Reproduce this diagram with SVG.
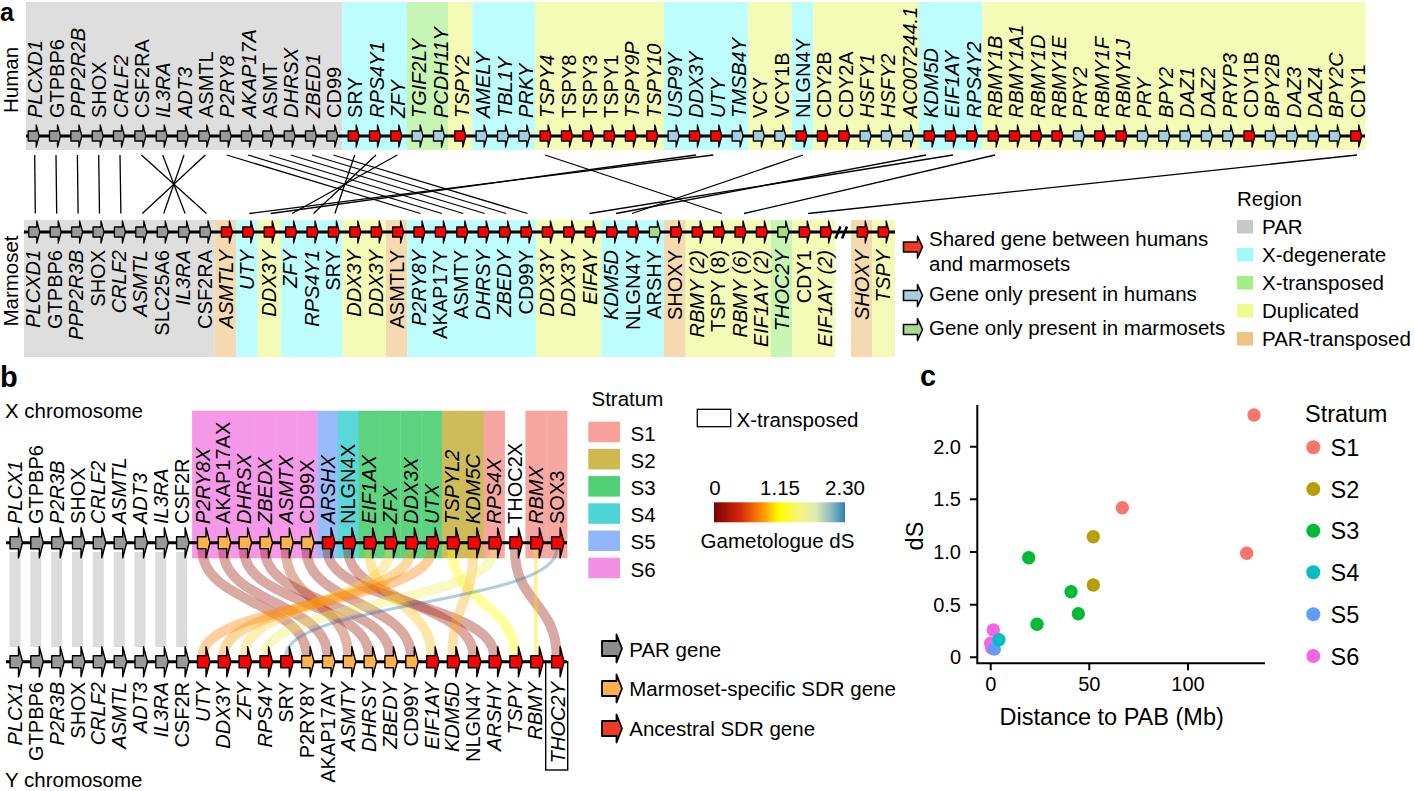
<svg xmlns="http://www.w3.org/2000/svg" width="1414" height="791" viewBox="0 0 1414 791">
<defs>
<style>
text{font-family:"Liberation Sans",Arial,Helvetica,sans-serif;fill:#000}
.gl{font-size:20px}
.i{font-style:italic}
.e{text-anchor:end}
.m{text-anchor:middle}
.lg{font-size:20.5px}
.ax{font-size:20px}
.cl{font-size:23.5px}
.bb{stroke:#000;stroke-width:3}
.par{fill:#999}
.red{fill:#f00}
.hum{fill:#a7cde1}
.mar{fill:#a8d98c}
.msp{fill:#ffb24a}
.ln line{stroke:#000;stroke-width:1.3}
.rb path{fill:none;stroke-opacity:.38}
.pl{font-weight:bold;font-size:29px}
.rg{stroke:none}
</style>
<path id="ga" d="M-4.5,-5H3.5V-11L6.5,0L3.5,11V5H-4.5Z" stroke="#000" stroke-width="1.3" stroke-linejoin="round"/>
<path id="gb" d="M-5,-6H3.5V-15L7.5,0L3.5,15V6H-5Z" stroke="#000" stroke-width="1.4" stroke-linejoin="round"/>
<path id="la" d="M0,-5H14V-11L19,0L14,11V5H0Z" stroke="#000" stroke-width="1.6" stroke-linejoin="round"/>
<path id="lb" d="M0,-7.5H14.5V-14L20,0L14.5,14V7.5H0Z" stroke="#000" stroke-width="1.8" stroke-linejoin="round"/>
<linearGradient id="dsg" x1="0" x2="1" y1="0" y2="0">
<stop offset="0" stop-color="#7a0000"/><stop offset="0.2" stop-color="#d42a08"/><stop offset="0.36" stop-color="#ff8a00"/><stop offset="0.5" stop-color="#ffff00"/><stop offset="0.65" stop-color="#f4f47c"/><stop offset="0.78" stop-color="#dfe9b4"/><stop offset="0.9" stop-color="#86b8c0"/><stop offset="1" stop-color="#2c7fb8"/>
</linearGradient>
</defs>
<rect width="1414" height="791" fill="#fff"/>

<text class="pl" x="0" y="21" style="font-size:25px">a</text>
<text class="pl" x="0" y="387">b</text>
<text class="pl" x="920" y="386">c</text>

<g id="regions-human" class="rg">
<rect x="26" y="2" width="316.5" height="148" fill="#dedede"/>
<rect x="342.5" y="2" width="64.5" height="148" fill="#bdfdfd"/>
<rect x="407" y="2" width="41" height="148" fill="#c6f5b4"/>
<rect x="448" y="2" width="24.3" height="148" fill="#f4fbb6"/>
<rect x="472.3" y="2" width="62.7" height="148" fill="#bdfdfd"/>
<rect x="535" y="2" width="129" height="148" fill="#f4fbb6"/>
<rect x="664" y="2" width="84.3" height="148" fill="#bdfdfd"/>
<rect x="748.3" y="2" width="43.4" height="148" fill="#f4fbb6"/>
<rect x="791.7" y="2" width="21.6" height="148" fill="#bdfdfd"/>
<rect x="813.3" y="2" width="105.7" height="148" fill="#f4fbb6"/>
<rect x="919" y="2" width="63.3" height="148" fill="#bdfdfd"/>
<rect x="982.3" y="2" width="383.4" height="148" fill="#f4fbb6"/>
</g>
<g id="regions-marmoset" class="rg">
<rect x="24" y="220" width="190.3" height="137" fill="#dedede"/>
<rect x="214.3" y="220" width="21.7" height="137" fill="#f5d9b0"/>
<rect x="236" y="220" width="21.7" height="137" fill="#bdfdfd"/>
<rect x="257.7" y="220" width="23.3" height="137" fill="#f4fbb6"/>
<rect x="281" y="220" width="61.3" height="137" fill="#bdfdfd"/>
<rect x="342.3" y="220" width="43.7" height="137" fill="#f4fbb6"/>
<rect x="386" y="220" width="21.3" height="137" fill="#f5d9b0"/>
<rect x="407.3" y="220" width="128.7" height="137" fill="#bdfdfd"/>
<rect x="536" y="220" width="65.3" height="137" fill="#f4fbb6"/>
<rect x="601.3" y="220" width="62.7" height="137" fill="#bdfdfd"/>
<rect x="664" y="220" width="21.7" height="137" fill="#f5d9b0"/>
<rect x="685.7" y="220" width="85.3" height="137" fill="#f4fbb6"/>
<rect x="771" y="220" width="21.3" height="137" fill="#c6f5b4"/>
<rect x="792.3" y="220" width="43" height="137" fill="#f4fbb6"/>
<rect x="851" y="220" width="21.3" height="137" fill="#f5d9b0"/>
<rect x="872.3" y="220" width="22.7" height="137" fill="#f4fbb6"/>
</g>

<g id="connectors-a" class="ln">
<line x1="34.7" y1="155" x2="35.3" y2="213.5"/>
<line x1="56" y1="155" x2="56.7" y2="213.5"/>
<line x1="77.4" y1="155" x2="78.1" y2="213.5"/>
<line x1="98.7" y1="155" x2="99.5" y2="213.5"/>
<line x1="120" y1="155" x2="120.9" y2="213.5"/>
<line x1="141.4" y1="155" x2="206.5" y2="213.5"/>
<line x1="162.7" y1="155" x2="185.1" y2="213.5"/>
<line x1="184" y1="155" x2="163.7" y2="213.5"/>
<line x1="205.3" y1="155" x2="142.3" y2="213.5"/>
<line x1="226.7" y1="155" x2="420.5" y2="213.5"/>
<line x1="248" y1="155" x2="441.9" y2="213.5"/>
<line x1="269.3" y1="155" x2="463.3" y2="213.5"/>
<line x1="290.7" y1="155" x2="484.7" y2="213.5"/>
<line x1="312" y1="155" x2="506.1" y2="213.5"/>
<line x1="333.3" y1="155" x2="527.5" y2="213.5"/>
<line x1="354.7" y1="155" x2="334.9" y2="213.5"/>
<line x1="376" y1="155" x2="313.5" y2="213.5"/>
<line x1="397.3" y1="155" x2="292.1" y2="213.5"/>
<line x1="695.9" y1="155" x2="270.7" y2="213.5"/>
<line x1="713.3" y1="155" x2="249.3" y2="213.5"/>
<line x1="545" y1="155" x2="722" y2="213.5"/>
<line x1="803" y1="155" x2="632" y2="213.5"/>
<line x1="926" y1="155" x2="616" y2="213.5"/>
<line x1="953" y1="155" x2="589.5" y2="213.5"/>
<line x1="995" y1="155" x2="744" y2="213.5"/>
<line x1="1357" y1="155" x2="808" y2="213.5"/>
</g>

<line class="bb" x1="26" y1="136" x2="1365" y2="136"/>
<line class="bb" x1="24" y1="232" x2="895" y2="232"/>
<path d="M835.5,238.5L840.5,226.5M842,238.5L847,226.5" stroke="#000" stroke-width="2.5"/>

<text class="lg m" transform="translate(18 80) rotate(-90)">Human</text>
<text class="lg m" transform="translate(18 281) rotate(-90)">Marmoset</text>

<g id="h-PLCXD1"><use href="#ga" x="32.7" y="136" class="par"/><text class="gl i" transform="translate(42.2 118) rotate(-90)">PLCXD1</text></g>
<g id="h-GTPBP6"><use href="#ga" x="54" y="136" class="par"/><text class="gl" transform="translate(63.5 118) rotate(-90)">GTPBP6</text></g>
<g id="h-PPP2R2B"><use href="#ga" x="75.4" y="136" class="par"/><text class="gl i" transform="translate(84.9 118) rotate(-90)">PPP2R2B</text></g>
<g id="h-SHOX"><use href="#ga" x="96.7" y="136" class="par"/><text class="gl" transform="translate(106.2 118) rotate(-90)">SHOX</text></g>
<g id="h-CRLF2"><use href="#ga" x="118" y="136" class="par"/><text class="gl i" transform="translate(127.5 118) rotate(-90)">CRLF2</text></g>
<g id="h-CSF2RA"><use href="#ga" x="139.4" y="136" class="par"/><text class="gl" transform="translate(148.9 118) rotate(-90)">CSF2RA</text></g>
<g id="h-IL3RA"><use href="#ga" x="160.7" y="136" class="par"/><text class="gl i" transform="translate(170.2 118) rotate(-90)">IL3RA</text></g>
<g id="h-ADT3"><use href="#ga" x="182" y="136" class="par"/><text class="gl i" transform="translate(191.5 118) rotate(-90)">ADT3</text></g>
<g id="h-ASMTL"><use href="#ga" x="203.3" y="136" class="par"/><text class="gl" transform="translate(212.8 118) rotate(-90)">ASMTL</text></g>
<g id="h-P2RY8"><use href="#ga" x="224.7" y="136" class="par"/><text class="gl i" transform="translate(234.2 118) rotate(-90)">P2RY8</text></g>
<g id="h-AKAP17A"><use href="#ga" x="246" y="136" class="par"/><text class="gl i" transform="translate(255.5 118) rotate(-90)">AKAP17A</text></g>
<g id="h-ASMT"><use href="#ga" x="267.3" y="136" class="par"/><text class="gl" transform="translate(276.8 118) rotate(-90)">ASMT</text></g>
<g id="h-DHRSX"><use href="#ga" x="288.7" y="136" class="par"/><text class="gl i" transform="translate(298.2 118) rotate(-90)">DHRSX</text></g>
<g id="h-ZBED1"><use href="#ga" x="310" y="136" class="par"/><text class="gl i" transform="translate(319.5 118) rotate(-90)">ZBED1</text></g>
<g id="h-CD99"><use href="#ga" x="331.3" y="136" class="par"/><text class="gl" transform="translate(340.8 118) rotate(-90)">CD99</text></g>
<g id="h-SRY"><use href="#ga" x="352.7" y="136" class="red"/><text class="gl" transform="translate(362.2 118) rotate(-90)">SRY</text></g>
<g id="h-RPS4Y1"><use href="#ga" x="374" y="136" class="red"/><text class="gl i" transform="translate(383.5 118) rotate(-90)">RPS4Y1</text></g>
<g id="h-ZFY"><use href="#ga" x="395.3" y="136" class="red"/><text class="gl i" transform="translate(404.8 118) rotate(-90)">ZFY</text></g>
<g id="h-TGIF2LY"><use href="#ga" x="416.6" y="136" class="hum"/><text class="gl i" transform="translate(426.1 118) rotate(-90)">TGIF2LY</text></g>
<g id="h-PCDH11Y"><use href="#ga" x="438" y="136" class="hum"/><text class="gl i" transform="translate(447.5 118) rotate(-90)">PCDH11Y</text></g>
<g id="h-TSPY2"><use href="#ga" x="459.3" y="136" class="red"/><text class="gl i" transform="translate(468.8 118) rotate(-90)">TSPY2</text></g>
<g id="h-AMELY"><use href="#ga" x="480.6" y="136" class="hum"/><text class="gl i" transform="translate(490.1 118) rotate(-90)">AMELY</text></g>
<g id="h-TBL1Y"><use href="#ga" x="502" y="136" class="hum"/><text class="gl i" transform="translate(511.5 118) rotate(-90)">TBL1Y</text></g>
<g id="h-PRKY"><use href="#ga" x="523.3" y="136" class="hum"/><text class="gl i" transform="translate(532.8 118) rotate(-90)">PRKY</text></g>
<g id="h-TSPY4"><use href="#ga" x="544.6" y="136" class="red"/><text class="gl i" transform="translate(554.1 118) rotate(-90)">TSPY4</text></g>
<g id="h-TSPY8"><use href="#ga" x="566" y="136" class="red"/><text class="gl" transform="translate(575.5 118) rotate(-90)">TSPY8</text></g>
<g id="h-TSPY3"><use href="#ga" x="587.3" y="136" class="red"/><text class="gl" transform="translate(596.8 118) rotate(-90)">TSPY3</text></g>
<g id="h-TSPY1"><use href="#ga" x="608.6" y="136" class="red"/><text class="gl" transform="translate(618.1 118) rotate(-90)">TSPY1</text></g>
<g id="h-TSPY9P"><use href="#ga" x="629.9" y="136" class="red"/><text class="gl i" transform="translate(639.4 118) rotate(-90)">TSPY9P</text></g>
<g id="h-TSPY10"><use href="#ga" x="651.3" y="136" class="red"/><text class="gl i" transform="translate(660.8 118) rotate(-90)">TSPY10</text></g>
<g id="h-USP9Y"><use href="#ga" x="672.6" y="136" class="hum"/><text class="gl i" transform="translate(682.1 118) rotate(-90)">USP9Y</text></g>
<g id="h-DDX3Y"><use href="#ga" x="693.9" y="136" class="red"/><text class="gl i" transform="translate(703.4 118) rotate(-90)">DDX3Y</text></g>
<g id="h-UTY"><use href="#ga" x="715.3" y="136" class="red"/><text class="gl i" transform="translate(724.8 118) rotate(-90)">UTY</text></g>
<g id="h-TMSB4Y"><use href="#ga" x="736.6" y="136" class="hum"/><text class="gl i" transform="translate(746.1 118) rotate(-90)">TMSB4Y</text></g>
<g id="h-VCY"><use href="#ga" x="757.9" y="136" class="hum"/><text class="gl" transform="translate(767.4 118) rotate(-90)">VCY</text></g>
<g id="h-VCY1B"><use href="#ga" x="779.3" y="136" class="hum"/><text class="gl" transform="translate(788.8 118) rotate(-90)">VCY1B</text></g>
<g id="h-NLGN4Y"><use href="#ga" x="800.6" y="136" class="red"/><text class="gl" transform="translate(810.1 118) rotate(-90)">NLGN4Y</text></g>
<g id="h-CDY2B"><use href="#ga" x="821.9" y="136" class="red"/><text class="gl" transform="translate(831.4 118) rotate(-90)">CDY2B</text></g>
<g id="h-CDY2A"><use href="#ga" x="843.2" y="136" class="red"/><text class="gl" transform="translate(852.7 118) rotate(-90)">CDY2A</text></g>
<g id="h-HSFY1"><use href="#ga" x="864.6" y="136" class="hum"/><text class="gl i" transform="translate(874.1 118) rotate(-90)">HSFY1</text></g>
<g id="h-HSFY2"><use href="#ga" x="885.9" y="136" class="hum"/><text class="gl i" transform="translate(895.4 118) rotate(-90)">HSFY2</text></g>
<g id="h-AC007244.1"><use href="#ga" x="907.2" y="136" class="hum"/><text class="gl i" transform="translate(916.7 118) rotate(-90)">AC007244.1</text></g>
<g id="h-KDM5D"><use href="#ga" x="928.6" y="136" class="red"/><text class="gl i" transform="translate(938.1 118) rotate(-90)">KDM5D</text></g>
<g id="h-EIF1AY"><use href="#ga" x="949.9" y="136" class="red"/><text class="gl i" transform="translate(959.4 118) rotate(-90)">EIF1AY</text></g>
<g id="h-RPS4Y2"><use href="#ga" x="971.2" y="136" class="red"/><text class="gl i" transform="translate(980.7 118) rotate(-90)">RPS4Y2</text></g>
<g id="h-RBMY1B"><use href="#ga" x="992.6" y="136" class="red"/><text class="gl i" transform="translate(1002.1 118) rotate(-90)">RBMY1B</text></g>
<g id="h-RBMY1A1"><use href="#ga" x="1013.9" y="136" class="red"/><text class="gl i" transform="translate(1023.4 118) rotate(-90)">RBMY1A1</text></g>
<g id="h-RBMY1D"><use href="#ga" x="1035.2" y="136" class="red"/><text class="gl i" transform="translate(1044.7 118) rotate(-90)">RBMY1D</text></g>
<g id="h-RBMY1E"><use href="#ga" x="1056.5" y="136" class="red"/><text class="gl i" transform="translate(1066 118) rotate(-90)">RBMY1E</text></g>
<g id="h-PRY2"><use href="#ga" x="1077.9" y="136" class="hum"/><text class="gl i" transform="translate(1087.4 118) rotate(-90)">PRY2</text></g>
<g id="h-RBMY1F"><use href="#ga" x="1099.2" y="136" class="red"/><text class="gl i" transform="translate(1108.7 118) rotate(-90)">RBMY1F</text></g>
<g id="h-RBMY1J"><use href="#ga" x="1120.5" y="136" class="red"/><text class="gl i" transform="translate(1130 118) rotate(-90)">RBMY1J</text></g>
<g id="h-PRY"><use href="#ga" x="1141.9" y="136" class="hum"/><text class="gl i" transform="translate(1151.4 118) rotate(-90)">PRY</text></g>
<g id="h-BPY2"><use href="#ga" x="1163.2" y="136" class="hum"/><text class="gl i" transform="translate(1172.7 118) rotate(-90)">BPY2</text></g>
<g id="h-DAZ1"><use href="#ga" x="1184.5" y="136" class="hum"/><text class="gl i" transform="translate(1194 118) rotate(-90)">DAZ1</text></g>
<g id="h-DAZ2"><use href="#ga" x="1205.9" y="136" class="hum"/><text class="gl i" transform="translate(1215.4 118) rotate(-90)">DAZ2</text></g>
<g id="h-PRYP3"><use href="#ga" x="1227.2" y="136" class="hum"/><text class="gl i" transform="translate(1236.7 118) rotate(-90)">PRYP3</text></g>
<g id="h-CDY1B"><use href="#ga" x="1248.5" y="136" class="red"/><text class="gl" transform="translate(1258 118) rotate(-90)">CDY1B</text></g>
<g id="h-BPY2B"><use href="#ga" x="1269.8" y="136" class="hum"/><text class="gl i" transform="translate(1279.3 118) rotate(-90)">BPY2B</text></g>
<g id="h-DAZ3"><use href="#ga" x="1291.2" y="136" class="hum"/><text class="gl i" transform="translate(1300.7 118) rotate(-90)">DAZ3</text></g>
<g id="h-DAZ4"><use href="#ga" x="1312.5" y="136" class="hum"/><text class="gl i" transform="translate(1322 118) rotate(-90)">DAZ4</text></g>
<g id="h-BPY2C"><use href="#ga" x="1333.8" y="136" class="hum"/><text class="gl i" transform="translate(1343.3 118) rotate(-90)">BPY2C</text></g>
<g id="h-CDY1"><use href="#ga" x="1355.2" y="136" class="red"/><text class="gl" transform="translate(1364.5 118) rotate(-90)">CDY1</text></g>

<g id="m00-PLCXD1"><use href="#ga" x="33.3" y="232" class="par"/><text class="gl i e" transform="translate(40.3 250) rotate(-90)">PLCXD1</text></g>
<g id="m01-GTPBP6"><use href="#ga" x="54.7" y="232" class="par"/><text class="gl e" transform="translate(61.7 250) rotate(-90)">GTPBP6</text></g>
<g id="m02-PPP2R3B"><use href="#ga" x="76.1" y="232" class="par"/><text class="gl i e" transform="translate(83.1 250) rotate(-90)">PPP2R3B</text></g>
<g id="m03-SHOX"><use href="#ga" x="97.5" y="232" class="par"/><text class="gl e" transform="translate(104.5 250) rotate(-90)">SHOX</text></g>
<g id="m04-CRLF2"><use href="#ga" x="118.9" y="232" class="par"/><text class="gl i e" transform="translate(125.9 250) rotate(-90)">CRLF2</text></g>
<g id="m05-ASMTL"><use href="#ga" x="140.3" y="232" class="par"/><text class="gl i e" transform="translate(147.3 250) rotate(-90)">ASMTL</text></g>
<g id="m06-SLC25A6"><use href="#ga" x="161.7" y="232" class="par"/><text class="gl e" transform="translate(168.7 250) rotate(-90)">SLC25A6</text></g>
<g id="m07-IL3RA"><use href="#ga" x="183.1" y="232" class="par"/><text class="gl i e" transform="translate(190.1 250) rotate(-90)">IL3RA</text></g>
<g id="m08-CSF2RA"><use href="#ga" x="204.5" y="232" class="par"/><text class="gl e" transform="translate(211.5 250) rotate(-90)">CSF2RA</text></g>
<g id="m09-ASMTLY"><use href="#ga" x="225.9" y="232" class="red"/><text class="gl i e" transform="translate(232.9 250) rotate(-90)">ASMTLY</text></g>
<g id="m10-UTY"><use href="#ga" x="247.3" y="232" class="red"/><text class="gl i e" transform="translate(254.3 250) rotate(-90)">UTY</text></g>
<g id="m11-DDX3Y"><use href="#ga" x="268.7" y="232" class="red"/><text class="gl i e" transform="translate(275.7 250) rotate(-90)">DDX3Y</text></g>
<g id="m12-ZFY"><use href="#ga" x="290.1" y="232" class="red"/><text class="gl i e" transform="translate(297.1 250) rotate(-90)">ZFY</text></g>
<g id="m13-RPS4Y1"><use href="#ga" x="311.5" y="232" class="red"/><text class="gl i e" transform="translate(318.5 250) rotate(-90)">RPS4Y1</text></g>
<g id="m14-SRY"><use href="#ga" x="332.9" y="232" class="red"/><text class="gl e" transform="translate(339.9 250) rotate(-90)">SRY</text></g>
<g id="m15-DDX3Y"><use href="#ga" x="354.3" y="232" class="red"/><text class="gl i e" transform="translate(361.3 250) rotate(-90)">DDX3Y</text></g>
<g id="m16-DDX3Y"><use href="#ga" x="375.7" y="232" class="red"/><text class="gl i e" transform="translate(382.7 250) rotate(-90)">DDX3Y</text></g>
<g id="m17-ASMTLY"><use href="#ga" x="397.1" y="232" class="red"/><text class="gl e" transform="translate(404.1 250) rotate(-90)">ASMTLY</text></g>
<g id="m18-P2RY8Y"><use href="#ga" x="418.5" y="232" class="red"/><text class="gl i e" transform="translate(425.5 250) rotate(-90)">P2RY8Y</text></g>
<g id="m19-AKAP17Y"><use href="#ga" x="439.9" y="232" class="red"/><text class="gl e" transform="translate(446.9 250) rotate(-90)">AKAP17Y</text></g>
<g id="m20-ASMTY"><use href="#ga" x="461.3" y="232" class="red"/><text class="gl e" transform="translate(468.3 250) rotate(-90)">ASMTY</text></g>
<g id="m21-DHRSY"><use href="#ga" x="482.7" y="232" class="red"/><text class="gl i e" transform="translate(489.7 250) rotate(-90)">DHRSY</text></g>
<g id="m22-ZBEDY"><use href="#ga" x="504.1" y="232" class="red"/><text class="gl i e" transform="translate(511.1 250) rotate(-90)">ZBEDY</text></g>
<g id="m23-CD99Y"><use href="#ga" x="525.5" y="232" class="red"/><text class="gl e" transform="translate(532.5 250) rotate(-90)">CD99Y</text></g>
<g id="m24-DDX3Y"><use href="#ga" x="546.9" y="232" class="red"/><text class="gl i e" transform="translate(553.9 250) rotate(-90)">DDX3Y</text></g>
<g id="m25-DDX3Y"><use href="#ga" x="568.3" y="232" class="red"/><text class="gl i e" transform="translate(575.3 250) rotate(-90)">DDX3Y</text></g>
<g id="m26-EIFAY"><use href="#ga" x="589.7" y="232" class="red"/><text class="gl i e" transform="translate(596.7 250) rotate(-90)">EIFAY</text></g>
<g id="m27-KDM5D"><use href="#ga" x="611.1" y="232" class="red"/><text class="gl i e" transform="translate(618.1 250) rotate(-90)">KDM5D</text></g>
<g id="m28-NLGN4Y"><use href="#ga" x="632.5" y="232" class="red"/><text class="gl e" transform="translate(639.5 250) rotate(-90)">NLGN4Y</text></g>
<g id="m29-ARSHY"><use href="#ga" x="653.9" y="232" class="mar"/><text class="gl e" transform="translate(660.9 250) rotate(-90)">ARSHY</text></g>
<g id="m30-SHOXY"><use href="#ga" x="675.3" y="232" class="red"/><text class="gl e" transform="translate(682.3 250) rotate(-90)">SHOXY</text></g>
<g id="m31-RBMY2"><use href="#ga" x="696.7" y="232" class="red"/><text class="gl i e" transform="translate(703.7 250) rotate(-90)">RBMY (2)</text></g>
<g id="m32-TSPY8"><use href="#ga" x="718.1" y="232" class="red"/><text class="gl e" transform="translate(725.1 250) rotate(-90)">TSPY (8)</text></g>
<g id="m33-RBMY6"><use href="#ga" x="739.5" y="232" class="red"/><text class="gl i e" transform="translate(746.5 250) rotate(-90)">RBMY (6)</text></g>
<g id="m34-EIF1AY2"><use href="#ga" x="760.9" y="232" class="red"/><text class="gl i e" transform="translate(767.9 250) rotate(-90)">EIF1AY (2)</text></g>
<g id="m35-THOC2Y"><use href="#ga" x="782.3" y="232" class="mar"/><text class="gl i e" transform="translate(789.3 250) rotate(-90)">THOC2Y</text></g>
<g id="m36-CDY1"><use href="#ga" x="803.7" y="232" class="red"/><text class="gl e" transform="translate(810.7 250) rotate(-90)">CDY1</text></g>
<g id="m37-EIF1AY2"><use href="#ga" x="825.1" y="232" class="red"/><text class="gl i e" transform="translate(832.1 250) rotate(-90)">EIF1AY (2)</text></g>
<g id="m38-SHOXY"><use href="#ga" x="861.7" y="232" class="red"/><text class="gl i e" transform="translate(868.7 250) rotate(-90)">SHOXY</text></g>
<g id="m39-TSPY"><use href="#ga" x="882.7" y="232" class="red"/><text class="gl i e" transform="translate(889.7 250) rotate(-90)">TSPY</text></g>

<g id="legend-genes-a">
<use href="#la" x="903.5" y="247" fill="#ef3b24"/>
<text class="lg" x="929" y="246">Shared gene between humans</text>
<text class="lg" x="929" y="270.5">and marmosets</text>
<use href="#la" x="903.5" y="295.5" fill="#a7cde1"/>
<text class="lg" x="929" y="300.5">Gene only present in humans</text>
<use href="#la" x="903.5" y="329.5" fill="#a8d98c"/>
<text class="lg" x="929" y="334.5">Gene only present in marmosets</text>
</g>
<g id="legend-region">
<text class="lg" x="1237" y="206">Region</text>
<rect x="1237" y="220" width="16" height="13.5" fill="#c8c8c8"/><text class="lg" x="1262" y="233.5">PAR</text>
<rect x="1237" y="248" width="16" height="13.5" fill="#a0fafa"/><text class="lg" x="1262" y="261.5">X-degenerate</text>
<rect x="1237" y="276" width="16" height="13.5" fill="#a0f082"/><text class="lg" x="1262" y="289.5">X-transposed</text>
<rect x="1237" y="304" width="16" height="13.5" fill="#f0fa8c"/><text class="lg" x="1262" y="317.5">Duplicated</text>
<rect x="1237" y="332" width="16" height="13.5" fill="#f0c382"/><text class="lg" x="1262" y="345.5">PAR-transposed</text>
</g>

<text class="lg" x="5" y="418">X chromosome</text>
<text class="lg" x="5" y="787">Y chromosome</text>

<g id="strata-bg" opacity="0.9">
<rect x="192.1" y="410.7" width="21.2" height="147.6" fill="#f48de5"/>
<rect x="212.9" y="410.7" width="21.2" height="147.6" fill="#f48de5"/>
<rect x="233.7" y="410.7" width="21.2" height="147.6" fill="#f48de5"/>
<rect x="254.6" y="410.7" width="21.2" height="147.6" fill="#f48de5"/>
<rect x="275.4" y="410.7" width="21.2" height="147.6" fill="#f48de5"/>
<rect x="296.2" y="410.7" width="21.2" height="147.6" fill="#f48de5"/>
<rect x="317.1" y="410.7" width="21.2" height="147.6" fill="#8fb4fb"/>
<rect x="337.9" y="410.7" width="21.2" height="147.6" fill="#49d3d3"/>
<rect x="358.7" y="410.7" width="21.2" height="147.6" fill="#4ccf73"/>
<rect x="379.5" y="410.7" width="21.2" height="147.6" fill="#4ccf73"/>
<rect x="400.4" y="410.7" width="21.2" height="147.6" fill="#4ccf73"/>
<rect x="421.2" y="410.7" width="21.2" height="147.6" fill="#4ccf73"/>
<rect x="442" y="410.7" width="21.2" height="147.6" fill="#c9b54a"/>
<rect x="462.9" y="410.7" width="21.2" height="147.6" fill="#c9b54a"/>
<rect x="483.7" y="410.7" width="21.2" height="147.6" fill="#f79e98"/>
<rect x="525.4" y="410.7" width="21.2" height="147.6" fill="#f79e98"/>
<rect x="546.2" y="410.7" width="21.2" height="147.6" fill="#f79e98"/>
</g>

<g id="par-bands" fill="#dcdcdc">
<rect x="9.5" y="552" width="11" height="95"/>
<rect x="30.3" y="552" width="11" height="95"/>
<rect x="51.2" y="552" width="11" height="95"/>
<rect x="72" y="552" width="11" height="95"/>
<rect x="92.8" y="552" width="11" height="95"/>
<rect x="113.7" y="552" width="11" height="95"/>
<rect x="134.5" y="552" width="11" height="95"/>
<rect x="155.3" y="552" width="11" height="95"/>
<rect x="176.1" y="552" width="11" height="95"/>
</g>

<g id="connectors-b" class="rb">
<path d="M202.5,550C202.5,603 306.6,603 306.6,656" stroke="#9b1c0c" stroke-width="10"/>
<path d="M223.3,550C223.3,603 327.5,603 327.5,656" stroke="#9b1c0c" stroke-width="10"/>
<path d="M244.1,550C244.1,603 369.1,603 369.1,656" stroke="#9b1c0c" stroke-width="10"/>
<path d="M265,550C265,603 389.9,603 389.9,656" stroke="#9b1c0c" stroke-width="10"/>
<path d="M285.8,550C285.8,603 348.3,603 348.3,656" stroke="#b33a10" stroke-width="10"/>
<path d="M306.6,550C306.6,603 410.8,603 410.8,656" stroke="#9b1c0c" stroke-width="10"/>
<path d="M327.5,550C327.5,603 494.1,603 494.1,656" stroke="#9b1c0c" stroke-width="10"/>
<path d="M348.3,550C348.3,603 473.3,603 473.3,656" stroke="#a81c08" stroke-width="10"/>
<path d="M369.1,550C369.1,603 431.6,603 431.6,656" stroke="#ffc020" stroke-width="10"/>
<path d="M389.9,550C389.9,603 244.1,603 244.1,656" stroke="#ffd040" stroke-width="10"/>
<path d="M410.8,550C410.8,603 223.3,603 223.3,656" stroke="#ff9a00" stroke-width="10"/>
<path d="M431.6,550C431.6,603 202.5,603 202.5,656" stroke="#ff8000" stroke-width="10"/>
<path d="M452.4,550C452.4,603 514.9,603 514.9,656" stroke="#ffff00" stroke-width="10"/>
<path d="M473.3,550C473.3,603 452.4,603 452.4,656" stroke="#ffb030" stroke-width="10"/>
<path d="M494.1,550C494.1,603 265,603 265,656" stroke="#f0f060" stroke-width="10"/>
<path d="M514.9,550C514.9,603 556.6,603 556.6,656" stroke="#9b1c0c" stroke-width="10"/>
<path d="M535.8,550C535.8,603 535.8,603 535.8,656" stroke="#ffe000" stroke-width="4"/>
<path d="M556.6,550C556.6,603 285.8,603 285.8,656" stroke="#2c7bb6" stroke-width="3"/>
</g>

<line class="bb" x1="6" y1="542.7" x2="567" y2="542.7"/>
<line class="bb" x1="6" y1="661.7" x2="567" y2="661.7"/>
<rect x="545.7" y="661.7" width="22" height="108.3" fill="none" stroke="#000" stroke-width="1.4"/>

<g id="x-PLCX1"><use href="#gb" x="15" y="542.7" class="par"/><text class="gl i" transform="translate(22 524) rotate(-90)">PLCX1</text></g>
<g id="x-GTPBP6"><use href="#gb" x="35.8" y="542.7" class="par"/><text class="gl" transform="translate(42.8 524) rotate(-90)">GTPBP6</text></g>
<g id="x-P2R3B"><use href="#gb" x="56.7" y="542.7" class="par"/><text class="gl i" transform="translate(63.7 524) rotate(-90)">P2R3B</text></g>
<g id="x-SHOX"><use href="#gb" x="77.5" y="542.7" class="par"/><text class="gl" transform="translate(84.5 524) rotate(-90)">SHOX</text></g>
<g id="x-CRLF2"><use href="#gb" x="98.3" y="542.7" class="par"/><text class="gl i" transform="translate(105.3 524) rotate(-90)">CRLF2</text></g>
<g id="x-ASMTL"><use href="#gb" x="119.2" y="542.7" class="par"/><text class="gl i" transform="translate(126.2 524) rotate(-90)">ASMTL</text></g>
<g id="x-ADT3"><use href="#gb" x="140" y="542.7" class="par"/><text class="gl i" transform="translate(147 524) rotate(-90)">ADT3</text></g>
<g id="x-IL3RA"><use href="#gb" x="160.8" y="542.7" class="par"/><text class="gl i" transform="translate(167.8 524) rotate(-90)">IL3RA</text></g>
<g id="x-CSF2R"><use href="#gb" x="181.6" y="542.7" class="par"/><text class="gl" transform="translate(188.6 524) rotate(-90)">CSF2R</text></g>
<g id="x-P2RY8X"><use href="#gb" x="202.5" y="542.7" class="msp"/><text class="gl i" transform="translate(209.5 524) rotate(-90)">P2RY8X</text></g>
<g id="x-AKAP17AX"><use href="#gb" x="223.3" y="542.7" class="msp"/><text class="gl" transform="translate(230.3 524) rotate(-90)">AKAP17AX</text></g>
<g id="x-DHRSX"><use href="#gb" x="244.1" y="542.7" class="msp"/><text class="gl i" transform="translate(251.1 524) rotate(-90)">DHRSX</text></g>
<g id="x-ZBEDX"><use href="#gb" x="265" y="542.7" class="msp"/><text class="gl i" transform="translate(272 524) rotate(-90)">ZBEDX</text></g>
<g id="x-ASMTX"><use href="#gb" x="285.8" y="542.7" class="msp"/><text class="gl i" transform="translate(292.8 524) rotate(-90)">ASMTX</text></g>
<g id="x-CD99X"><use href="#gb" x="306.6" y="542.7" class="msp"/><text class="gl" transform="translate(313.6 524) rotate(-90)">CD99X</text></g>
<g id="x-ARSHX"><use href="#gb" x="327.5" y="542.7" class="red"/><text class="gl i" transform="translate(334.5 524) rotate(-90)">ARSHX</text></g>
<g id="x-NLGN4X"><use href="#gb" x="348.3" y="542.7" class="red"/><text class="gl" transform="translate(355.3 524) rotate(-90)">NLGN4X</text></g>
<g id="x-EIF1AX"><use href="#gb" x="369.1" y="542.7" class="red"/><text class="gl i" transform="translate(376.1 524) rotate(-90)">EIF1AX</text></g>
<g id="x-ZFX"><use href="#gb" x="389.9" y="542.7" class="red"/><text class="gl i" transform="translate(396.9 524) rotate(-90)">ZFX</text></g>
<g id="x-DDX3X"><use href="#gb" x="410.8" y="542.7" class="red"/><text class="gl i" transform="translate(417.8 524) rotate(-90)">DDX3X</text></g>
<g id="x-UTX"><use href="#gb" x="431.6" y="542.7" class="red"/><text class="gl i" transform="translate(438.6 524) rotate(-90)">UTX</text></g>
<g id="x-TSPYL2"><use href="#gb" x="452.4" y="542.7" class="red"/><text class="gl i" transform="translate(459.4 524) rotate(-90)">TSPYL2</text></g>
<g id="x-KDM5C"><use href="#gb" x="473.3" y="542.7" class="red"/><text class="gl i" transform="translate(480.3 524) rotate(-90)">KDM5C</text></g>
<g id="x-RPS4X"><use href="#gb" x="494.1" y="542.7" class="red"/><text class="gl i" transform="translate(501.1 524) rotate(-90)">RPS4X</text></g>
<g id="x-THOC2X"><use href="#gb" x="514.9" y="542.7" class="red"/><text class="gl" transform="translate(521.9 524) rotate(-90)">THOC2X</text></g>
<g id="x-RBMX"><use href="#gb" x="535.8" y="542.7" class="red"/><text class="gl i" transform="translate(542.8 524) rotate(-90)">RBMX</text></g>
<g id="x-SOX3"><use href="#gb" x="556.6" y="542.7" class="red"/><text class="gl" transform="translate(563.6 524) rotate(-90)">SOX3</text></g>

<g id="y-PLCX1"><use href="#gb" x="15" y="661.7" class="par"/><text class="gl i e" transform="translate(22 682) rotate(-90)">PLCX1</text></g>
<g id="y-GTPBP6"><use href="#gb" x="35.8" y="661.7" class="par"/><text class="gl e" transform="translate(42.8 682) rotate(-90)">GTPBP6</text></g>
<g id="y-P2R3B"><use href="#gb" x="56.7" y="661.7" class="par"/><text class="gl i e" transform="translate(63.7 682) rotate(-90)">P2R3B</text></g>
<g id="y-SHOX"><use href="#gb" x="77.5" y="661.7" class="par"/><text class="gl e" transform="translate(84.5 682) rotate(-90)">SHOX</text></g>
<g id="y-CRLF2"><use href="#gb" x="98.3" y="661.7" class="par"/><text class="gl i e" transform="translate(105.3 682) rotate(-90)">CRLF2</text></g>
<g id="y-ASMTL"><use href="#gb" x="119.2" y="661.7" class="par"/><text class="gl i e" transform="translate(126.2 682) rotate(-90)">ASMTL</text></g>
<g id="y-ADT3"><use href="#gb" x="140" y="661.7" class="par"/><text class="gl i e" transform="translate(147 682) rotate(-90)">ADT3</text></g>
<g id="y-IL3RA"><use href="#gb" x="160.8" y="661.7" class="par"/><text class="gl i e" transform="translate(167.8 682) rotate(-90)">IL3RA</text></g>
<g id="y-CSF2R"><use href="#gb" x="181.6" y="661.7" class="par"/><text class="gl e" transform="translate(188.6 682) rotate(-90)">CSF2R</text></g>
<g id="y-UTY"><use href="#gb" x="202.5" y="661.7" class="red"/><text class="gl i e" transform="translate(209.5 682) rotate(-90)">UTY</text></g>
<g id="y-DDX3Y"><use href="#gb" x="223.3" y="661.7" class="red"/><text class="gl i e" transform="translate(230.3 682) rotate(-90)">DDX3Y</text></g>
<g id="y-ZFY"><use href="#gb" x="244.1" y="661.7" class="red"/><text class="gl i e" transform="translate(251.1 682) rotate(-90)">ZFY</text></g>
<g id="y-RPS4Y"><use href="#gb" x="265" y="661.7" class="red"/><text class="gl i e" transform="translate(272 682) rotate(-90)">RPS4Y</text></g>
<g id="y-SRY"><use href="#gb" x="285.8" y="661.7" class="red"/><text class="gl e" transform="translate(292.8 682) rotate(-90)">SRY</text></g>
<g id="y-P2RY8Y"><use href="#gb" x="306.6" y="661.7" class="msp"/><text class="gl e" transform="translate(313.6 682) rotate(-90)">P2RY8Y</text></g>
<g id="y-AKAP17AY"><use href="#gb" x="327.5" y="661.7" class="msp"/><text class="gl e" transform="translate(334.5 682) rotate(-90)">AKAP17AY</text></g>
<g id="y-ASMTY"><use href="#gb" x="348.3" y="661.7" class="msp"/><text class="gl i e" transform="translate(355.3 682) rotate(-90)">ASMTY</text></g>
<g id="y-DHRSY"><use href="#gb" x="369.1" y="661.7" class="msp"/><text class="gl i e" transform="translate(376.1 682) rotate(-90)">DHRSY</text></g>
<g id="y-ZBEDY"><use href="#gb" x="389.9" y="661.7" class="msp"/><text class="gl i e" transform="translate(396.9 682) rotate(-90)">ZBEDY</text></g>
<g id="y-CD99Y"><use href="#gb" x="410.8" y="661.7" class="msp"/><text class="gl e" transform="translate(417.8 682) rotate(-90)">CD99Y</text></g>
<g id="y-EIF1AY"><use href="#gb" x="431.6" y="661.7" class="red"/><text class="gl i e" transform="translate(438.6 682) rotate(-90)">EIF1AY</text></g>
<g id="y-KDM5D"><use href="#gb" x="452.4" y="661.7" class="red"/><text class="gl i e" transform="translate(459.4 682) rotate(-90)">KDM5D</text></g>
<g id="y-NLGN4Y"><use href="#gb" x="473.3" y="661.7" class="red"/><text class="gl e" transform="translate(480.3 682) rotate(-90)">NLGN4Y</text></g>
<g id="y-ARSHY"><use href="#gb" x="494.1" y="661.7" class="red"/><text class="gl i e" transform="translate(501.1 682) rotate(-90)">ARSHY</text></g>
<g id="y-TSPY"><use href="#gb" x="514.9" y="661.7" class="red"/><text class="gl i e" transform="translate(521.9 682) rotate(-90)">TSPY</text></g>
<g id="y-RBMY"><use href="#gb" x="535.8" y="661.7" class="red"/><text class="gl i e" transform="translate(542 682) rotate(-90)">RBMY</text></g>
<g id="y-THOC2Y"><use href="#gb" x="556.6" y="661.7" class="red"/><text class="gl i e" transform="translate(564.5 682) rotate(-90)">THOC2Y</text></g>

<g id="legend-stratum-b">
<text class="lg" x="591.5" y="406">Stratum</text>
<rect x="588.3" y="421.7" width="31.7" height="20.5" fill="#f8a19a"/><text class="lg" x="630.5" y="440.5">S1</text>
<rect x="588.3" y="448.9" width="31.7" height="20.5" fill="#cdb94e"/><text class="lg" x="630.5" y="467.7">S2</text>
<rect x="588.3" y="476.1" width="31.7" height="20.5" fill="#4fd075"/><text class="lg" x="630.5" y="494.9">S3</text>
<rect x="588.3" y="503.3" width="31.7" height="20.5" fill="#4dd4d4"/><text class="lg" x="630.5" y="522.1">S4</text>
<rect x="588.3" y="530.5" width="31.7" height="20.5" fill="#91b6fb"/><text class="lg" x="630.5" y="549.3">S5</text>
<rect x="588.3" y="557.7" width="31.7" height="20.5" fill="#f58fe5"/><text class="lg" x="630.5" y="576.5">S6</text>
</g>
<g id="legend-xtransposed">
<rect x="697.3" y="409.3" width="33.4" height="17.4" fill="none" stroke="#000" stroke-width="1.3"/>
<text class="lg" x="736.5" y="426.5">X-transposed</text>
</g>
<g id="legend-ds">
<text class="lg m" x="715" y="495">0</text>
<text class="lg m" x="780" y="495">1.15</text>
<text class="lg m" x="845" y="495">2.30</text>
<rect x="714" y="502.3" width="131" height="20" fill="url(#dsg)"/>
<text class="lg m" x="777.5" y="548">Gametologue dS</text>
</g>
<g id="legend-genes-b">
<use href="#lb" x="602" y="648.5" fill="#8c8c8c"/>
<text class="lg" x="629.3" y="656.5">PAR gene</text>
<use href="#lb" x="602" y="688.5" fill="#ffb24a"/>
<text class="lg" x="629.3" y="695.5">Marmoset-specific SDR gene</text>
<use href="#lb" x="602" y="728.5" fill="#ef3b24"/>
<text class="lg" x="629.3" y="736">Ancestral SDR gene</text>
</g>

<g id="panel-c">
<path d="M977.3,405V663.3H1265" fill="none" stroke="#000" stroke-width="2"/>
<path d="M970,446.7H977.3M970,499.3H977.3M970,552H977.3M970,604.7H977.3M970,657.3H977.3M990.7,663.3V670.3M1089.3,663.3V670.3M1188,663.3V670.3" stroke="#000" stroke-width="2"/>
<text class="ax e" x="961" y="453.5">2.0</text>
<text class="ax e" x="961" y="506">1.5</text>
<text class="ax e" x="961" y="558.8">1.0</text>
<text class="ax e" x="961" y="611.5">0.5</text>
<text class="ax e" x="961" y="664">0</text>
<text class="ax m" x="990.7" y="691">0</text>
<text class="ax m" x="1089.3" y="691">50</text>
<text class="ax m" x="1188" y="691">100</text>
<text class="cl m" x="1111.7" y="725">Distance to PAB (Mb)</text>
<text class="cl m" transform="translate(923 536) rotate(-90)">dS</text>
<circle cx="993.3" cy="630" r="6.7" fill="#f564e3"/>
<circle cx="990.7" cy="643.3" r="6.7" fill="#f564e3"/>
<circle cx="991.7" cy="648" r="6.7" fill="#f564e3"/>
<circle cx="994.3" cy="649" r="6.7" fill="#619cff"/>
<circle cx="999" cy="639.7" r="6.7" fill="#00bfc4"/>
<circle cx="1028.7" cy="557.7" r="6.7" fill="#00ba38"/>
<circle cx="1071" cy="591.7" r="6.7" fill="#00ba38"/>
<circle cx="1078.3" cy="613.7" r="6.7" fill="#00ba38"/>
<circle cx="1037" cy="624.3" r="6.7" fill="#00ba38"/>
<circle cx="1093.3" cy="536.7" r="6.7" fill="#b79f00"/>
<circle cx="1093.3" cy="585" r="6.7" fill="#b79f00"/>
<circle cx="1254" cy="415" r="6.7" fill="#f8766d"/>
<circle cx="1122.3" cy="507.7" r="6.7" fill="#f8766d"/>
<circle cx="1246.7" cy="553.3" r="6.7" fill="#f8766d"/>
<text class="cl" x="1305" y="421.7">Stratum</text>
<circle cx="1313.3" cy="447.3" r="7" fill="#f8766d"/><text class="cl" x="1330.5" y="456">S1</text>
<circle cx="1313.3" cy="489" r="7" fill="#b79f00"/><text class="cl" x="1330.5" y="497.7">S2</text>
<circle cx="1313.3" cy="530.7" r="7" fill="#00ba38"/><text class="cl" x="1330.5" y="539.4">S3</text>
<circle cx="1313.3" cy="572.3" r="7" fill="#00bfc4"/><text class="cl" x="1330.5" y="581">S4</text>
<circle cx="1313.3" cy="614.3" r="7" fill="#619cff"/><text class="cl" x="1330.5" y="623">S5</text>
<circle cx="1313.3" cy="656" r="7" fill="#f564e3"/><text class="cl" x="1330.5" y="664.7">S6</text>
</g>
</svg>
